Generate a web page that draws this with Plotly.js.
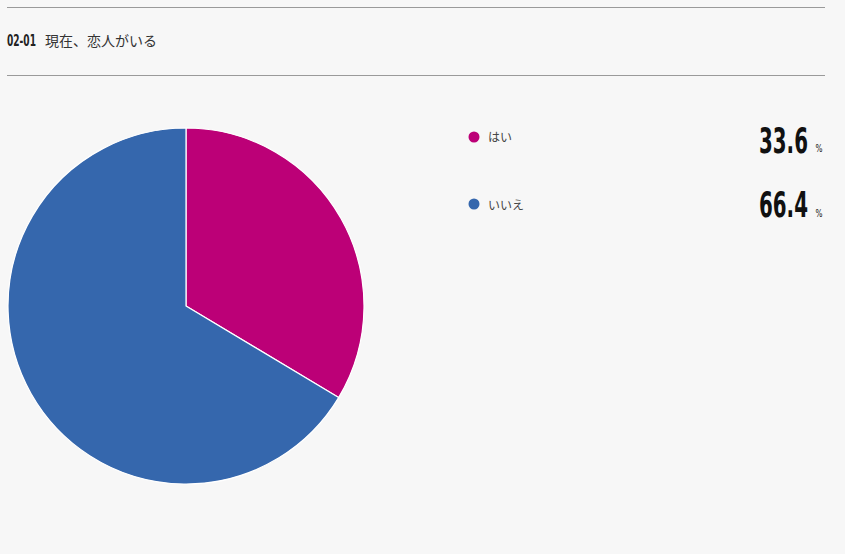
<!DOCTYPE html>
<html><head><meta charset="utf-8">
<script src="https://cdn.plot.ly/plotly-3.0.1.min.js"></script>
<style>html,body{margin:0;padding:0;background:#f7f7f7;}#chart{width:845px;height:554px;}</style>
</head><body><div id="chart"></div>
<script>
const titleCode = "02-01";
const titleText = "現在、恋人がいる";
const labels = ["はい", "いいえ"];
const values = [33.6, 66.4];
const colors = ["#bc0077", "#3567ad"];

const W = 845, H = 554;
const px = x => x / W;
const py = y => 1 - y / H;
const NUM_FONT = "DejaVu Sans";

const trace = {
  type: "pie",
  labels: labels,
  values: values,
  sort: false,
  direction: "clockwise",
  rotation: 0,
  marker: {colors: colors, line: {color: "#ffffff", width: 1.2}},
  textinfo: "none",
  hoverinfo: "label+percent",
  domain: {x: [px(8), px(364)], y: [py(484), py(128)]},
  showlegend: false
};

const shapes = [
  {type: "line", xref: "paper", yref: "paper", x0: px(7), x1: px(825), y0: py(7.5), y1: py(7.5), line: {color: "#9a9a9a", width: 1}},
  {type: "line", xref: "paper", yref: "paper", x0: px(7), x1: px(825), y0: py(75.5), y1: py(75.5), line: {color: "#9a9a9a", width: 1}}
];
// squeeze entries: [annotationIndex, targetWidthPx] -> horizontally condensed text
const squeeze = [];
const annotations = [];
function addAnn(a, w) {
  annotations.push(a);
  if (w) squeeze.push([annotations.length - 1, w]);
}
addAnn({xref: "paper", yref: "paper", x: px(7), y: py(40), xanchor: "left", yanchor: "middle", showarrow: false,
   text: "<b>" + titleCode + "</b>", font: {family: NUM_FONT, size: 16, color: "#222"}}, 29);
addAnn({xref: "paper", yref: "paper", x: px(43), y: py(40), xanchor: "left", yanchor: "middle", showarrow: false,
   text: titleText, font: {family: "Noto Sans CJK JP", size: 14, color: "#333"}});
const rowY = [137, 204];
const numY = [140.5, 205.5];
labels.forEach((lab, i) => {
  const cy = rowY[i];
  shapes.push({type: "circle", xref: "paper", yref: "paper", x0: px(468.5), x1: px(479.5), y0: py(cy + 5.5), y1: py(cy - 5.5),
    fillcolor: colors[i], line: {width: 0}});
  addAnn({xref: "paper", yref: "paper", x: px(486), y: py(cy), xanchor: "left", yanchor: "middle", showarrow: false,
    text: lab, font: {family: "Noto Sans CJK JP", size: 12, color: "#444"}});
  addAnn({xref: "paper", yref: "paper", x: px(759), y: py(numY[i]), xanchor: "left", yanchor: "middle", showarrow: false,
    text: "<b>" + values[i].toFixed(1) + "</b>", font: {family: NUM_FONT, size: 35, color: "#111"}}, 49);
  addAnn({xref: "paper", yref: "paper", x: px(815.5), y: py(numY[i] + 8), xanchor: "left", yanchor: "middle", showarrow: false,
    text: "%", font: {family: NUM_FONT, size: 11, color: "#111"}}, 7);
});

const layout = {
  width: W, height: H,
  margin: {l: 0, r: 0, t: 0, b: 0},
  paper_bgcolor: "#f7f7f7",
  plot_bgcolor: "#f7f7f7",
  shapes: shapes,
  annotations: annotations
};
Plotly.newPlot("chart", [trace], layout, {displayModeBar: false, staticPlot: true}).then(gd => {
  const anns = gd.querySelectorAll(".annotation");
  squeeze.forEach(([idx, w]) => {
    const g = anns[idx];
    if (!g) return;
    const t = g.querySelector("text.annotation-text");
    if (!t) return;
    t.setAttribute("text-anchor", "start");
    const bb = t.getBBox();
    const ctm = t.getCTM();
    const targetLocal = layout.annotations[idx].x * W - (ctm ? ctm.e : 0);
    const s = w / bb.width;
    t.setAttribute("transform", `translate(${targetLocal},0) scale(${s},1) translate(${-bb.x},0)`);
    const rect = t.parentNode.querySelector("rect.bg");
    if (rect) {
      rect.setAttribute("x", targetLocal);
      rect.setAttribute("width", w);
    }
  });
});
</script></body></html>
